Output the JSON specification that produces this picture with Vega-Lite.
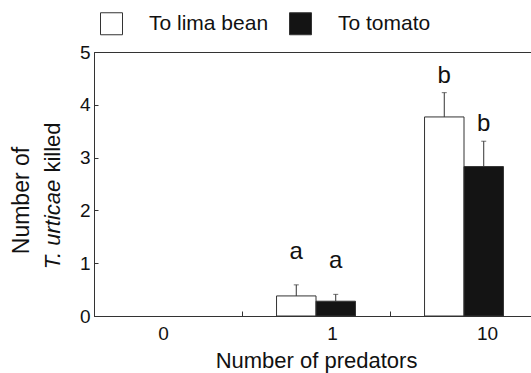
{
  "$schema": "https://vega.github.io/schema/vega-lite/v6.json",
  "width": 444,
  "height": 264,
  "autosize": {"type": "none"},
  "padding": {"left": 94, "top": 52, "right": 0, "bottom": 57},
  "config": {
    "font": "Liberation Sans",
    "view": {"stroke": "#333", "strokeWidth": 1},
    "axis": {"grid": false, "domainColor": "#333", "tickColor": "#333", "labelColor": "#111", "titleColor": "#111", "titleFontWeight": "normal"}
  },
  "data": {
    "values": [
      {"predators": "1", "host": "To lima bean", "mean": 0.38, "upper": 0.59, "letter": "a"},
      {"predators": "1", "host": "To tomato", "mean": 0.28, "upper": 0.41, "letter": "a"},
      {"predators": "10", "host": "To lima bean", "mean": 3.77, "upper": 4.23, "letter": "b"},
      {"predators": "10", "host": "To tomato", "mean": 2.83, "upper": 3.31, "letter": "b"}
    ]
  },
  "encoding": {
    "x": {
      "field": "predators",
      "type": "nominal",
      "scale": {"domain": ["0", "1", "10"], "paddingInner": 0, "paddingOuter": 0},
      "axis": {
        "title": "Number of predators",
        "titleFontSize": 22,
        "titlePadding": 7,
        "labelAngle": 0,
        "labelFontSize": 19,
        "labelPadding": 13,
        "bandPosition": 0,
        "tickSize": -5,
        "tickBand": "extent",
        "labelOffset": {"expr": "datum.value === '0' ? -5 : datum.value === '1' ? 16 : 23"}
      }
    },
    "xOffset": {
      "field": "host",
      "type": "nominal",
      "scale": {"domain": ["To lima bean", "To tomato"], "paddingInner": 0, "paddingOuter": 0.875}
    }
  },
  "resolve": {"axis": {"y": "independent"}},
  "layer": [
    {
      "mark": {"type": "bar", "stroke": "#333", "strokeWidth": 1},
      "encoding": {
        "y": {
          "field": "mean",
          "type": "quantitative",
          "scale": {"domain": [0, 5], "nice": false},
          "axis": {
            "values": [0, 1, 2, 3, 4, 5],
            "title": "Number of",
            "titleFontSize": 23,
            "titleX": -73,
            "titleY": 148,
            "titleAngle": -90,
            "titleAlign": "center",
            "titleBaseline": "middle",
            "labelFontSize": 19,
            "labelPadding": 8,
            "tickSize": -4
          }
        },
        "color": {
          "field": "host",
          "type": "nominal",
          "scale": {"domain": ["To lima bean", "To tomato"], "range": ["#ffffff", "#141414"]},
          "legend": {
            "title": null,
            "orient": "none",
            "direction": "horizontal",
            "legendX": 6,
            "legendY": -40,
            "padding": 0,
            "symbolType": "square",
            "symbolSize": 484,
            "symbolStrokeColor": "#333",
            "symbolStrokeWidth": 1,
            "labelFontSize": 21,
            "labelColor": "#111",
            "labelOffset": 26,
            "columnPadding": 18
          }
        }
      }
    },
    {
      "mark": {"type": "rule", "stroke": "#333", "strokeWidth": 1},
      "encoding": {
        "y": {
          "field": "mean",
          "type": "quantitative",
          "axis": {
            "orient": "left",
            "title": "T. urticae",
            "titleFontStyle": "italic",
            "titleFontSize": 22,
            "titleX": -42,
            "titleY": 172,
            "titleAngle": -90,
            "titleAlign": "center",
            "titleBaseline": "middle",
            "labels": false,
            "ticks": false,
            "domain": false
          }
        },
        "y2": {"field": "upper"}
      }
    },
    {
      "mark": {"type": "tick", "color": "#333", "thickness": 1, "size": 5, "orient": "horizontal"},
      "encoding": {
        "y": {
          "field": "upper",
          "type": "quantitative",
          "axis": {
            "orient": "left",
            "title": "killed",
            "titleFontSize": 22,
            "titleX": -42,
            "titleY": 95,
            "titleAngle": -90,
            "titleAlign": "center",
            "titleBaseline": "middle",
            "labels": false,
            "ticks": false,
            "domain": false
          }
        }
      }
    },
    {
      "transform": [{"filter": "datum.predators === '1'"}],
      "mark": {"type": "text", "fontSize": 24, "baseline": "alphabetic", "dy": -26, "color": "#111"},
      "encoding": {
        "y": {"field": "upper", "type": "quantitative", "axis": null},
        "text": {"field": "letter"}
      }
    },
    {
      "transform": [{"filter": "datum.predators === '10'"}],
      "mark": {"type": "text", "fontSize": 24, "baseline": "alphabetic", "dy": -10, "color": "#111"},
      "encoding": {
        "y": {"field": "upper", "type": "quantitative", "axis": null},
        "text": {"field": "letter"}
      }
    }
  ]
}
